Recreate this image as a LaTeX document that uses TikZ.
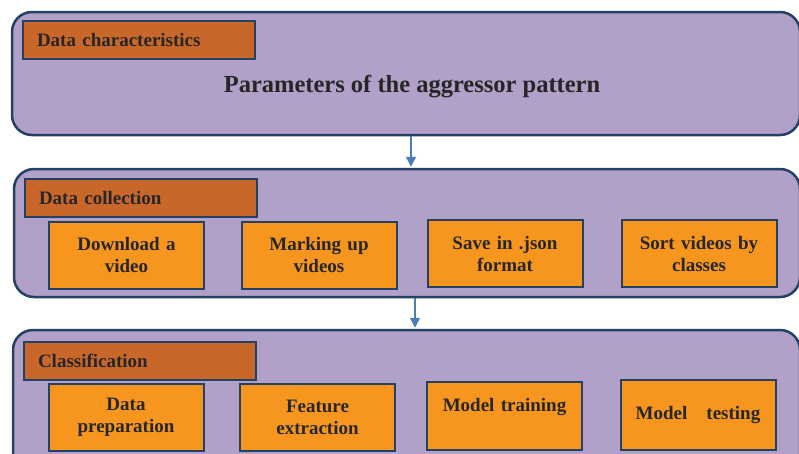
\documentclass[tikz,border=0pt]{standalone}
\usepackage{fontspec}
\setmainfont{Liberation Serif}
\usetikzlibrary{arrows.meta}

\definecolor{panelfill}{HTML}{B1A0C7}
\definecolor{edgeblue}{HTML}{244062}
\definecolor{headfill}{HTML}{C9672A}
\definecolor{boxfill}{HTML}{F7961E}
\definecolor{inkgray}{HTML}{262626}
\definecolor{arrowblue}{HTML}{4A7EBB}

\begin{document}
\begin{tikzpicture}[x=1pt,y=-1pt,
    panel/.style={draw=edgeblue, line width=2.5pt, fill=panelfill, rounded corners=20pt, inner sep=0pt},
    header/.style={draw=edgeblue, line width=2pt, fill=headfill, anchor=north west, minimum height=38pt,
      text width=204pt, inner xsep=14pt, inner ysep=0pt, align=left, text=inkgray,
      font=\fontsize{19}{22}\selectfont\bfseries},
    stepbox/.style={draw=edgeblue, line width=2pt, fill=boxfill, minimum width=155pt, minimum height=67pt,
      text width=150pt, inner sep=0pt, align=center, text=inkgray, font=\fontsize{19}{22}\selectfont\bfseries},
    flow/.style={arrowblue, line width=1.5pt, -{Triangle[length=10pt,width=10pt]}, shorten >=1pt}]
    \clip (0,0) rectangle (799,453);

    % panels
    \node[panel, minimum width=788pt, minimum height=123pt] (pan1) at (406,73.5) {};
    \node[panel, minimum width=786pt, minimum height=128pt] (pan2) at (407,233) {};
    \node[panel, minimum width=787pt, minimum height=150pt] (pan3) at (406.5,405) {};

    % headers
    \node[header] (head1) at (22,20) {Data characteristics};
    \node[header] (head2) at (24,178) {Data collection};
    \node[header] (head3) at (23,341) {Classification};

    \node[text=inkgray, font=\fontsize{24.5}{28}\selectfont\bfseries] (title) at (412,87) {Parameters of the aggressor pattern};

    % data collection steps
    \node[stepbox] (dl) at (126.5,255) {Download a\\ video};
    \node[stepbox] (mark) at (319,255) {Marking up\\ videos};
    \node[stepbox] (save) at (505,253.5) {Save in .json\\ format};
    \node[stepbox] (sort) at (699,253.5) {Sort videos by\\ classes};

    % classification steps
    \node[stepbox] (prep) at (126,417) {Data\\ preparation};
    \node[stepbox] (feat) at (317.5,417) {Feature\\ extraction};
    \node[stepbox, minimum height=68pt] (train) at (504.5,416) {Model training\\ \mbox{}};
    \node[stepbox, minimum height=70pt] (test) at (698,415) {Model\ \ \ testing};

    \draw[flow] ([xshift=5pt]pan1.south) -- ([xshift=5pt]pan1.south |- pan2.north);
    \draw[flow] ([xshift=8pt]pan2.south) -- ([xshift=8pt]pan2.south |- pan3.north);
\end{tikzpicture}
\end{document}
